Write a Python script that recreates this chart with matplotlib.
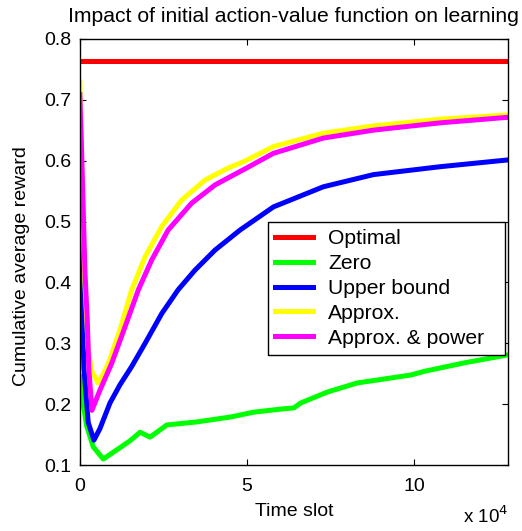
import matplotlib.pyplot as plt
from matplotlib.ticker import FuncFormatter

plt.rcParams['font.family'] = ['Liberation Sans', 'DejaVu Sans']

# Time slots (x 1e4) and cumulative average reward
t_opt = [0, 12.8]
r_opt = [0.763, 0.763]

t_zero = [0, 0.1, 0.2, 0.4, 0.7, 1.1, 1.5, 1.8, 2.1, 2.6, 3.5, 4.5, 5.2, 6.0,
          6.4, 6.6, 7.4, 8.3, 9.9, 10.3, 11.5, 12.8]
r_zero = [0.245, 0.2, 0.165, 0.13, 0.11, 0.125, 0.14, 0.154, 0.146, 0.166,
          0.171, 0.179, 0.187, 0.192, 0.194, 0.202, 0.220, 0.235, 0.248,
          0.254, 0.268, 0.281]

t_upper = [0, 0.05, 0.12, 0.25, 0.42, 0.6, 0.9, 1.2, 1.55, 1.95, 2.45, 2.94,
           3.44, 4.04, 4.79, 5.79, 7.28, 8.78, 10.78, 12.78]
r_upper = [0.55, 0.40, 0.26, 0.17, 0.141, 0.16, 0.202, 0.232, 0.262, 0.300,
           0.349, 0.388, 0.420, 0.453, 0.486, 0.524, 0.557, 0.577, 0.590,
           0.601]

t_approx = [0, 0.05, 0.15, 0.25, 0.35, 0.54, 0.7, 0.85, 1.2, 1.55, 1.95,
            2.45, 3.04, 3.74, 4.44, 4.89, 5.79, 7.28, 8.78, 10.78, 12.78]
r_approx = [0.729, 0.60, 0.40, 0.29, 0.255, 0.235, 0.25, 0.267, 0.322, 0.388,
            0.442, 0.492, 0.535, 0.568, 0.588, 0.598, 0.623, 0.645, 0.657,
            0.668, 0.675]

t_power = [0, 0.05, 0.15, 0.22, 0.27, 0.36, 0.6, 0.95, 1.35, 1.75, 2.15,
           2.64, 3.34, 4.04, 4.89, 5.79, 7.28, 8.78, 10.78, 12.78]
r_power = [0.708, 0.62, 0.42, 0.34, 0.256, 0.19, 0.223, 0.267, 0.327, 0.388,
           0.437, 0.486, 0.530, 0.560, 0.585, 0.612, 0.637, 0.650, 0.662,
           0.671]

fig = plt.figure(figsize=(5.22, 5.31), dpi=100)
ax = fig.add_axes([0.153, 0.124, 0.820, 0.803])

lw = 3.6
scale = 1e4
ax.plot([v * scale for v in t_opt], r_opt, color='#ff0000', lw=lw, label='Optimal')
ax.plot([v * scale for v in t_zero], r_zero, color='#00ff00', lw=lw, label='Zero')
ax.plot([v * scale for v in t_upper], r_upper, color='#0000ff', lw=lw, label='Upper bound')
ax.plot([v * scale for v in t_approx], r_approx, color='#ffff00', lw=lw, label='Approx.')
ax.plot([v * scale for v in t_power], r_power, color='#ff00ff', lw=lw, label='Approx. & power')

ax.set_xlim(0, 12.8e4)
ax.set_ylim(0.1, 0.8)
ax.set_xticks([0, 5e4, 10e4])
ax.set_yticks([0.1, 0.2, 0.3, 0.4, 0.5, 0.6, 0.7, 0.8])
ax.xaxis.set_major_formatter(FuncFormatter(lambda v, p: '%g' % (v / scale)))
ax.yaxis.set_major_formatter(FuncFormatter(lambda v, p: '%g' % v))
ax.tick_params(direction='in', length=4, top=True, right=True, labelsize=14)
ax.tick_params(axis='x', pad=9)
ax.tick_params(axis='y', pad=6)
for s in ax.spines.values():
    s.set_linewidth(1.0)

ax.set_title('Impact of initial action-value function on learning', fontsize=15.2, pad=12)
ax.set_xlabel('Time slot', fontsize=14, labelpad=6)
ax.set_ylabel('Cumulative average reward', fontsize=14)
ax.yaxis.set_label_coords(-0.117, 0.467)
ax.text(1.0, -0.095, 'x 10$^{4}$', transform=ax.transAxes, ha='right', va='top',
        fontsize=13.5)

leg = ax.legend(loc='upper left', bbox_to_anchor=(0.439, 0.571, 0.554, 0.0),
                mode='expand', fontsize=15.2,
                frameon=True, fancybox=False, edgecolor='black', framealpha=1,
                borderpad=0.35, labelspacing=0.28, handlelength=1.8,
                handletextpad=0.7, borderaxespad=0)
leg.get_frame().set_linewidth(1.0)

fig.savefig('out.png', dpi=100)
